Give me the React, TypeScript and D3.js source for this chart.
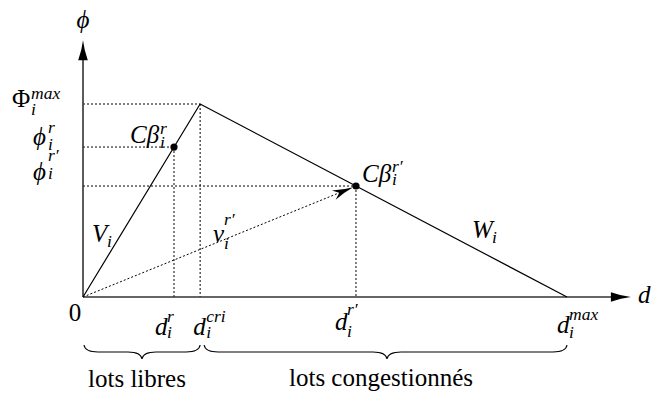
import React from "react";
import * as d3 from "d3";

const W = 651;
const H = 397;

// Fundamental diagram: flow phi against density d (triangular shape)
const diagramD = [0, 24.2, 100];
const diagramPhi = [0, 100, 0];

// Operating points C beta_i^r and C beta_i^{r'}
const stateD = [18.8, 56.4];
const statePhi = [77.7, 57.5];

// Axis extents (beyond the diagram, arrows drawn at the ends)
const axisMaxD = 113.2;
const axisMaxPhi = 133;

// Region labels under the d axis
const regionNames = ["lots libres", "lots congestionnés"];

const FONT = "Liberation Serif";
const FS = 25;
const SS = 17.5;

function T({
  x,
  y,
  size,
  italic,
  anchor,
  children,
}: {
  x: number;
  y: number;
  size: number;
  italic?: boolean;
  anchor?: string;
  children: React.ReactNode;
}) {
  return (
    <text
      x={x}
      y={y}
      fontFamily={FONT}
      fontSize={size}
      fontStyle={italic ? "italic" : "normal"}
      textAnchor={anchor ?? "start"}
      fill="#000"
      style={{ fontFamily: FONT }}
    >
      {children}
    </text>
  );
}

type SymProps = {
  x: number;
  y: number;
  base: string;
  sup?: string;
  sub?: string;
  upright?: boolean;
  sx: number;
  supDy?: number;
  subDy?: number;
  subDx?: number;
};

function Sym({ x, y, base, sup, sub, upright, sx, supDy = -10, subDy = 6, subDx = 0 }: SymProps) {
  return (
    <g>
      <T x={x} y={y} size={FS} italic={!upright}>
        {base}
      </T>
      {sup && (
        <T x={x + sx} y={y + supDy} size={SS} italic>
          {sup}
        </T>
      )}
      {sub && (
        <T x={x + sx + subDx} y={y + subDy} size={SS} italic>
          {sub}
        </T>
      )}
    </g>
  );
}

// Curly brace opening downwards, from x1 to x2 with its tip at xm
function bracePath(x1: number, x2: number, xm: number, y0: number) {
  const rx = 14;
  const ry = 7;
  const p = d3.path();
  p.moveTo(x1, y0);
  p.quadraticCurveTo(x1 + 1, y0 + ry, x1 + rx, y0 + ry);
  p.lineTo(xm - rx, y0 + ry);
  p.quadraticCurveTo(xm - 1, y0 + ry, xm, y0 + 2 * ry);
  p.quadraticCurveTo(xm + 1, y0 + ry, xm + rx, y0 + ry);
  p.lineTo(x2 - rx, y0 + ry);
  p.quadraticCurveTo(x2 - 1, y0 + ry, x2, y0);
  return p.toString();
}

// LaTeX-like arrow tip pointing along (ux, uy)
function tipPath(tx: number, ty: number, ux: number, uy: number, len: number, half: number, notch = 0) {
  const nx = -uy;
  const ny = ux;
  const bx = tx - ux * len;
  const by = ty - uy * len;
  const p = d3.path();
  p.moveTo(tx, ty);
  p.quadraticCurveTo(
    tx - ux * len * 0.5 + nx * half * 0.25,
    ty - uy * len * 0.5 + ny * half * 0.25,
    bx + nx * half,
    by + ny * half
  );
  p.lineTo(tx - ux * (len - notch), ty - uy * (len - notch));
  p.lineTo(bx - nx * half, by - ny * half);
  p.quadraticCurveTo(
    tx - ux * len * 0.5 - nx * half * 0.25,
    ty - uy * len * 0.5 - ny * half * 0.25,
    tx,
    ty
  );
  p.closePath();
  return p.toString();
}

export default function App() {
  const x = d3.scaleLinear().domain([0, 100]).range([83, 567]);
  const y = d3.scaleLinear().domain([0, 100]).range([297, 104]);

  const line = d3
    .line<number>()
    .x((_, i) => x(diagramD[i]))
    .y((d) => y(d));

  const x0 = x(0);
  const y0 = y(0);
  const xEnd = x(axisMaxD);
  const yEnd = y(axisMaxPhi);

  const dCri = diagramD[1];
  const dMax = diagramD[2];
  const phiMax = diagramPhi[1];
  const [dR, dRp] = stateD;
  const [phiR, phiRp] = statePhi;

  // vector from origin to the second operating point
  const vx = x(dRp) - x0;
  const vy = y(phiRp) - y0;
  const vl = Math.hypot(vx, vy);
  const ux = vx / vl;
  const uy = vy / vl;
  const tipX = x(dRp) - ux * 3;
  const tipY = y(phiRp) - uy * 3;

  const dash = "2,2";

  return (
    <svg width={W} height={H} style={{ position: "absolute", left: 0, top: 0 }}>
      {/* dotted guides */}
      <g stroke="#000" strokeWidth={1} strokeDasharray={dash} fill="none">
        <line x1={x0} y1={y(phiMax)} x2={x(dCri)} y2={y(phiMax)} />
        <line x1={x(dCri)} y1={y(phiMax)} x2={x(dCri)} y2={y0} />
        <line x1={x0} y1={y(phiR)} x2={x(dR)} y2={y(phiR)} />
        <line x1={x(dR)} y1={y(phiR)} x2={x(dR)} y2={y0} />
        <line x1={x0} y1={y(phiRp)} x2={x(dRp)} y2={y(phiRp)} />
        <line x1={x(dRp)} y1={y(phiRp)} x2={x(dRp)} y2={y0} />
        <line x1={x0} y1={y0} x2={tipX - ux * 14} y2={tipY - uy * 14} />
      </g>
      <path d={tipPath(tipX, tipY, ux, uy, 21, 5, 6)} fill="#000" />

      {/* axes */}
      <g stroke="#333" strokeWidth={1.6}>
        <line x1={x0} y1={y0} x2={xEnd - 10} y2={y0} />
        <line x1={x0} y1={y0} x2={x0} y2={yEnd + 10} />
      </g>
      <path d={tipPath(xEnd, y0, 1, 0, 20, 4.8)} fill="#000" />
      <path d={tipPath(x0, yEnd, 0, -1, 20, 4.8)} fill="#000" />

      {/* triangular diagram */}
      <path d={line(diagramPhi) ?? ""} fill="none" stroke="#000" strokeWidth={1.2} />

      {/* operating points */}
      {stateD.map((d, i) => (
        <circle key={i} cx={x(d)} cy={y(statePhi[i])} r={3.6} fill="#000" />
      ))}

      {/* axis titles */}
      <T x={x0} y={28} size={FS} italic anchor="middle">
        ϕ
      </T>
      <T x={xEnd + 7} y={y0 + 6} size={FS} italic>
        d
      </T>

      {/* phi labels */}
      <Sym x={12} y={y(phiMax) + 3} base="Φ" upright sup="max" sub="i" sx={19} supDy={-8} subDy={8} />
      <Sym x={33} y={y(phiR) - 2} base="ϕ" sup="r" sub="i" sx={15} supDy={-12} subDy={5} />
      <Sym x={33} y={y(phiRp) - 6} base="ϕ" sup="r′" sub="i" sx={15} supDy={-19} subDy={-1} />

      {/* d labels */}
      <T x={x0 - 8} y={y0 + 24} size={FS} anchor="middle">
        0
      </T>
      <Sym x={x(dR) - 19} y={y0 + 38} base="d" sup="r" sub="i" sx={12} supDy={-13} subDy={3} />
      <Sym x={x(dCri) - 7} y={y0 + 38} base="d" sup="cri" sub="i" sx={13} supDy={-13} subDy={3} />
      <Sym x={x(dRp) - 21} y={y0 + 33} base="d" sup="r′" sub="i" sx={12} supDy={-15} subDy={7} />
      <Sym x={x(dMax) - 10} y={y0 + 36} base="d" sup="max" sub="i" sx={12} supDy={-13} subDy={5} />

      {/* curve labels */}
      <Sym x={92} y={242} base="V" sub="i" sx={15} subDy={5} />
      <Sym x={472} y={238} base="W" sub="i" sx={20} subDy={5} />
      <Sym x={213} y={242} base="v" sup="r′" sub="i" sx={11} supDy={-17} subDy={7} />
      <Sym x={130} y={143} base="Cβ" sup="r" sub="i" sx={30} supDy={-9} subDy={5} subDx={0} />
      <Sym x={362} y={182} base="Cβ" sup="r′" sub="i" sx={30} supDy={-10} subDy={3} />

      {/* region braces */}
      <g fill="none" stroke="#000" strokeWidth={1.1}>
        <path d={bracePath(x0 + 1, x(dCri), 142, 345)} />
        <path d={bracePath(x(dCri) + 4, x(dMax), 387, 345)} />
      </g>
      <T x={137} y={387} size={FS} anchor="middle">
        {regionNames[0]}
      </T>
      <T x={381} y={386} size={FS} anchor="middle">
        {regionNames[1]}
      </T>
    </svg>
  );
}
